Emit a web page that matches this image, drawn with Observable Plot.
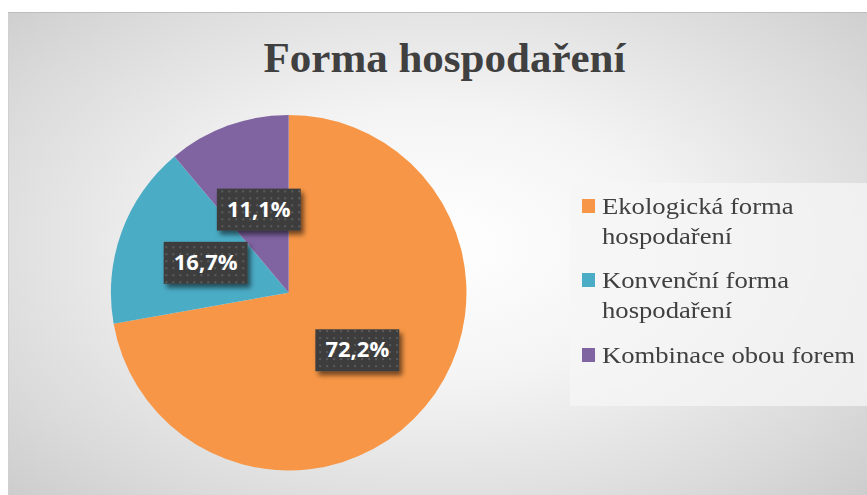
<!DOCTYPE html>
<html><head><meta charset="utf-8">
<script src="https://cdn.jsdelivr.net/npm/d3@7"></script>
<script src="https://cdn.jsdelivr.net/npm/@observablehq/plot@0.6"></script>
<style>
html,body{margin:0;padding:0;background:#fff;width:867px;height:495px;overflow:hidden;}
#chart{position:absolute;left:8px;top:12px;width:859px;height:483px;
 background:radial-gradient(ellipse 75% 80% at 50% 48%, #ffffff 0%, #f4f4f4 35%, #dadada 75%, #c8c8c8 100%);
 border-top:1px solid #bdbdbd;border-left:1px solid #d0d0d0;box-sizing:border-box;}
#title{position:absolute;left:6px;width:859px;top:20px;text-align:center;font-family:"Liberation Serif","Times New Roman",serif;font-weight:bold;font-size:43px;color:#404040;}
#plot{position:absolute;left:0;top:0;}
#legend{position:absolute;left:561px;top:170px;width:298px;height:223px;background:rgba(245,245,245,0.75);}
.item{position:absolute;left:32px;}
.tx{line-height:30px;font-family:"Liberation Serif","Times New Roman",serif;font-size:24px;color:#404040;white-space:nowrap;transform:scaleX(1.11);transform-origin:0 0;}
.sw{position:absolute;left:-20px;top:8px;width:13px;height:14px;}
</style></head>
<body>
<div id="chart">
 <div id="plot"></div>
 <div id="title">Forma hospodaření</div>
 <div id="legend"></div>
</div>
<script>
const categories = ["Ekologická forma hospodaření", "Konvenční forma hospodaření", "Kombinace obou forem"];
const legendLines = [["Ekologická forma", "hospodaření"], ["Konvenční forma", "hospodaření"], ["Kombinace obou forem"]];
const values = [72.2, 16.7, 11.1];
const labels = ["72,2%", "16,7%", "11,1%"];
const colors = ["#F79646", "#4BACC6", "#8064A2"];

const arcs = d3.pie().sort(null).value(d => d.value)(categories.map((c, i) => ({name: c, value: values[i], label: labels[i]})));
const data = arcs.map((a, i) => {
  const mid = (a.startAngle + a.endAngle) / 2;
  return {...a.data, startAngle: a.startAngle, endAngle: a.endAngle, lx: 0.5 * Math.sin(mid), ly: 0.5 * Math.cos(mid), color: colors[i]};
});

// pie slice mark rendered through Plot's x/y scales
function pieMark(index, scales, values_, dims, context) {
  const cx = scales.x(0), cy = scales.y(0), r = scales.x(1) - scales.x(0);
  const g = d3.create("svg:g").attr("transform", `translate(${cx},${cy})`);
  const arc = d3.arc().innerRadius(0).outerRadius(r);
  g.selectAll("path").data(data).join("path")
    .attr("d", d => arc({startAngle: d.startAngle, endAngle: d.endAngle}))
    .attr("fill", d => d.color);
  return g.node();
}

const plot = Plot.plot({
  width: 859, height: 483, margin: 0,
  style: {background: "transparent", overflow: "visible"},
  x: {domain: [-1, 1], range: [280 - 178, 280 + 178], axis: null},
  y: {domain: [-1, 1], range: [280 + 178, 280 - 178], axis: null},
  marks: [
    pieMark,
    Plot.text(data, {
      x: "lx", y: "ly", text: "label",
      fill: "#ffffff", fontSize: 22, fontWeight: "bold", fontFamily: "Open Sans",
      render(index, scales, vals, dims, context, next) {
        const g = next(index, scales, vals, dims, context);
        const ns = "http://www.w3.org/2000/svg";
        const defs = document.createElementNS(ns, "defs");
        defs.innerHTML = `<pattern id="dots" width="7" height="7" patternUnits="userSpaceOnUse">
          <rect width="7" height="7" fill="#3e3e3e"/><rect x="2" y="2" width="2" height="2" fill="#5a5a5a"/></pattern>
          <filter id="sh" x="-20%" y="-30%" width="150%" height="180%"><feDropShadow dx="3" dy="4" stdDeviation="2.5" flood-color="#000" flood-opacity="0.55"/></filter>`;
        const bg = document.createElementNS(ns, "g");
        bg.appendChild(defs);
        for (const i of index) {
          const rc = document.createElementNS(ns, "rect");
          rc.setAttribute("x", vals.x[i] - 42); rc.setAttribute("y", vals.y[i] - 21);
          rc.setAttribute("width", 84); rc.setAttribute("height", 42);
          rc.setAttribute("fill", "url(#dots)"); rc.setAttribute("filter", "url(#sh)");
          bg.appendChild(rc);
        }
        g.insertBefore(bg, g.firstChild);
        return g;
      }
    })
  ]
});
document.getElementById("plot").appendChild(plot);

const legend = d3.select("#legend");
const tops = [8, 82, 157];
legendLines.forEach((lines, i) => {
  const it = legend.append("div").attr("class", "item").style("top", tops[i] + "px");
  it.append("div").attr("class", "sw").style("background", colors[i]);
  it.append("div").attr("class", "tx").html(lines.join("<br>"));
});
</script>
</body></html>
